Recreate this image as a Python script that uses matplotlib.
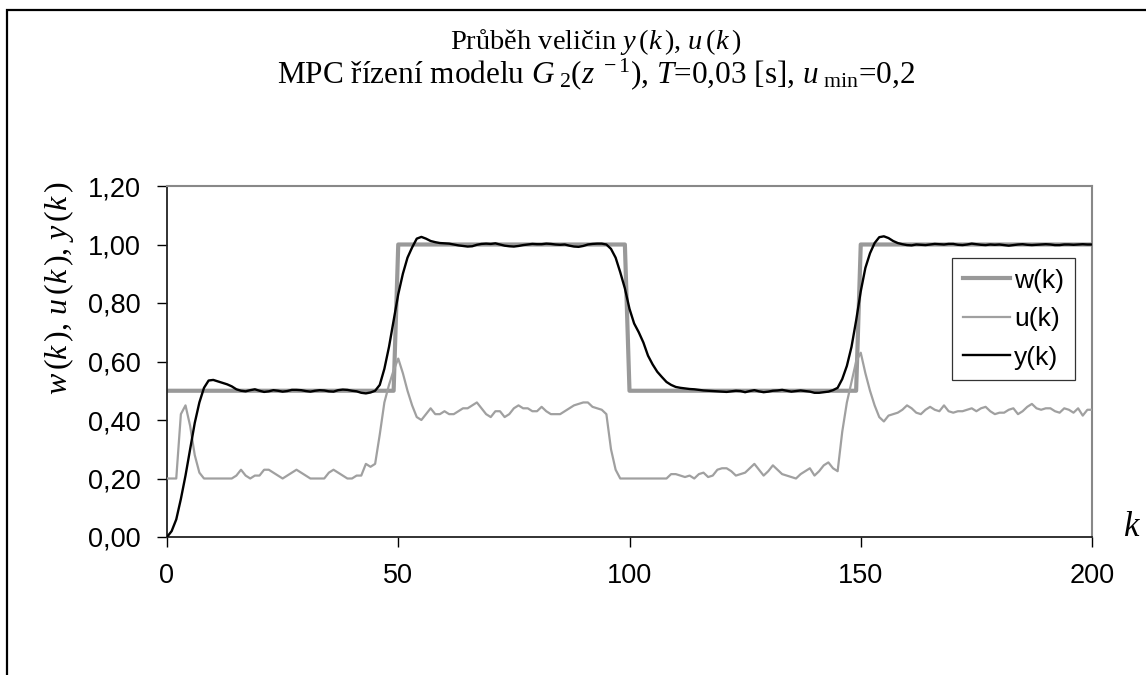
import matplotlib
matplotlib.use("Agg")
import matplotlib.pyplot as plt
from matplotlib.patches import Rectangle
from matplotlib.ticker import FuncFormatter

plt.rcParams['font.family'] = ['Liberation Sans', 'DejaVu Sans']
plt.rcParams['mathtext.fontset'] = 'custom'
plt.rcParams['mathtext.rm'] = 'Liberation Serif'
plt.rcParams['mathtext.it'] = 'Liberation Serif:italic'
plt.rcParams['mathtext.bf'] = 'Liberation Serif:bold'

# ---- data ----
k = list(range(201))

w = [0.5] * 50 + [1.0] * 50 + [0.5] * 50 + [1.0] * 51

u = [0.20, 0.20, 0.20, 0.42, 0.45, 0.38, 0.28, 0.22, 0.20, 0.20,
     0.20, 0.20, 0.20, 0.20, 0.20, 0.21, 0.23, 0.21, 0.20, 0.21,
     0.21, 0.23, 0.23, 0.22, 0.21, 0.20, 0.21, 0.22, 0.23, 0.22,
     0.21, 0.20, 0.20, 0.20, 0.20, 0.22, 0.23, 0.22, 0.21, 0.20,
     0.20, 0.21, 0.21, 0.25, 0.24, 0.25, 0.35, 0.46, 0.52, 0.57,
     0.61, 0.56, 0.50, 0.45, 0.41, 0.40, 0.42, 0.44, 0.42, 0.42,
     0.43, 0.42, 0.42, 0.43, 0.44, 0.44, 0.45, 0.46, 0.44, 0.42,
     0.41, 0.43, 0.43, 0.41, 0.42, 0.44, 0.45, 0.44, 0.44, 0.43,
     0.43, 0.445, 0.43, 0.42, 0.42, 0.42, 0.43, 0.44, 0.45, 0.455,
     0.46, 0.46, 0.445, 0.44, 0.435, 0.42, 0.30, 0.23, 0.20, 0.20,
     0.20, 0.20, 0.20, 0.20, 0.20, 0.20, 0.20, 0.20, 0.20, 0.215,
     0.215, 0.21, 0.205, 0.21, 0.20, 0.215, 0.22, 0.205, 0.21, 0.23,
     0.235, 0.235, 0.225, 0.21, 0.215, 0.22, 0.235, 0.25, 0.23, 0.21,
     0.225, 0.245, 0.23, 0.215, 0.21, 0.205, 0.20, 0.215, 0.225, 0.235,
     0.21, 0.225, 0.245, 0.255, 0.235, 0.225, 0.36, 0.46, 0.53, 0.60,
     0.63, 0.56, 0.50, 0.45, 0.41, 0.395, 0.415, 0.42, 0.425, 0.435,
     0.45, 0.44, 0.425, 0.42, 0.435, 0.445, 0.435, 0.43, 0.45, 0.43,
     0.425, 0.43, 0.43, 0.435, 0.44, 0.43, 0.44, 0.445, 0.43, 0.42,
     0.425, 0.425, 0.435, 0.44, 0.42, 0.43, 0.445, 0.455, 0.44, 0.435,
     0.44, 0.44, 0.43, 0.425, 0.44, 0.435, 0.425, 0.44, 0.415, 0.435,
     0.435]

y = [0.00, 0.02, 0.06, 0.13, 0.21, 0.30, 0.39, 0.46, 0.51, 0.535,
     0.537, 0.532, 0.527, 0.522, 0.515, 0.505, 0.500, 0.498, 0.502, 0.505,
     0.500, 0.496, 0.498, 0.502, 0.500, 0.497, 0.499, 0.503, 0.503, 0.502,
     0.499, 0.497, 0.500, 0.502, 0.501, 0.498, 0.497, 0.502, 0.504, 0.503,
     0.500, 0.498, 0.493, 0.491, 0.494, 0.500, 0.520, 0.575, 0.650, 0.740,
     0.830, 0.900, 0.955, 0.990, 1.020, 1.026, 1.020, 1.012, 1.008, 1.005,
     1.004, 1.003, 1.000, 0.997, 0.995, 0.993, 0.994, 0.999, 1.002, 1.003,
     1.002, 1.004, 1.000, 0.996, 0.994, 0.993, 0.995, 0.998, 1.000, 1.002,
     1.001, 1.001, 1.003, 1.002, 1.000, 0.999, 1.000, 0.996, 0.993, 0.992,
     0.995, 1.000, 1.002, 1.003, 1.003, 1.000, 0.985, 0.955, 0.905, 0.850,
     0.780, 0.730, 0.700, 0.665, 0.620, 0.590, 0.565, 0.547, 0.530, 0.520,
     0.513, 0.510, 0.508, 0.506, 0.505, 0.503, 0.501, 0.500, 0.499, 0.498,
     0.497, 0.496, 0.498, 0.500, 0.499, 0.495, 0.499, 0.502, 0.498, 0.495,
     0.497, 0.500, 0.501, 0.503, 0.500, 0.497, 0.499, 0.501, 0.499, 0.497,
     0.493, 0.493, 0.495, 0.497, 0.502, 0.510, 0.540, 0.585, 0.650, 0.740,
     0.840, 0.920, 0.970, 1.005, 1.025, 1.028, 1.022, 1.012, 1.005, 1.001,
     0.998, 0.997, 1.000, 0.999, 0.998, 1.000, 1.002, 1.001, 1.000, 1.002,
     1.002, 0.999, 0.998, 1.000, 1.003, 1.001, 0.999, 0.998, 1.000, 0.999,
     1.000, 0.998, 0.996, 0.998, 1.000, 1.001, 0.999, 0.998, 0.999, 1.000,
     1.001, 1.000, 0.998, 0.998, 1.000, 1.000, 0.999, 1.000, 1.001, 1.000,
     1.000]

series_labels = ['w(k)', 'u(k)', 'y(k)']
x_ticks = [0, 50, 100, 150, 200]
y_ticks = [0.0, 0.2, 0.4, 0.6, 0.8, 1.0, 1.2]

title1 = r'Průběh veličin $y\,(k\,)$, $u\,(k\,)$'
title2 = r'MPC řízení modelu $G_{\rm \ 2}(z^{\rm \ -1})$, $T$=0,03 [s], $u_{\rm \ min}$=0,2'
ylabel = r'$w\,(k\,)$, $u\,(k\,)$, $y\,(k\,)$'

# ---- figure ----
W, H = 1146, 675
fig = plt.figure(figsize=(W / 100, H / 100), dpi=100)
ax = fig.add_axes([167 / W, 1 - 537 / H, (1092 - 167) / W, (537 - 186) / H])

ax.plot(k, w, color='#999999', lw=3.0, label=series_labels[0], zorder=2)
ax.plot(k, u, color='#a0a0a0', lw=1.6, label=series_labels[1], zorder=3)
ax.plot(k, y, color='black', lw=1.7, label=series_labels[2], zorder=4)

ax.set_xlim(0, 200)
ax.set_ylim(0, 1.2)
ax.set_xticks(x_ticks)
ax.set_yticks(y_ticks)
ax.yaxis.set_major_formatter(FuncFormatter(lambda v, p: f'{v:.2f}'.replace('.', ',')))
ax.tick_params(axis='both', direction='out', length=7, width=1, labelsize=19.5,
               colors='black')
ax.tick_params(axis='x', pad=12)
ax.tick_params(axis='y', pad=12)

for s in ['left', 'bottom']:
    ax.spines[s].set_color('#222222')
    ax.spines[s].set_linewidth(1.3)
for s in ['top', 'right']:
    ax.spines[s].set_color('#888888')
    ax.spines[s].set_linewidth(1.5)

leg = ax.legend(loc='upper left', bbox_to_anchor=((952 - 167) / 925, (537 - 258) / 351),
                frameon=True, fancybox=False, fontsize=19, handlelength=1.8,
                handletextpad=0.15, borderpad=0.4, labelspacing=0.55,
                borderaxespad=0)
leg.get_frame().set_edgecolor('black')
leg.get_frame().set_linewidth(0.9)

fig.text(596 / W, 1 - 42 / H, title1, ha='center', va='center', fontsize=20.5,
         family='Liberation Serif')
fig.text(596 / W, 1 - 74 / H, title2, ha='center', va='center', fontsize=22.5,
         family='Liberation Serif')
fig.text(59 / W, 1 - 288 / H, ylabel, ha='center', va='center', rotation=90,
         fontsize=23, family='Liberation Serif')
fig.text(1132 / W, 1 - 527 / H, r'$k$', ha='center', va='center', fontsize=25)

fig.patches.append(Rectangle((7 / W, -0.5), 2.0, 1.5 - 10 / H, transform=fig.transFigure,
                             fill=False, edgecolor='black', lw=1.6))

fig.savefig('out.png', dpi=100, facecolor='white')
